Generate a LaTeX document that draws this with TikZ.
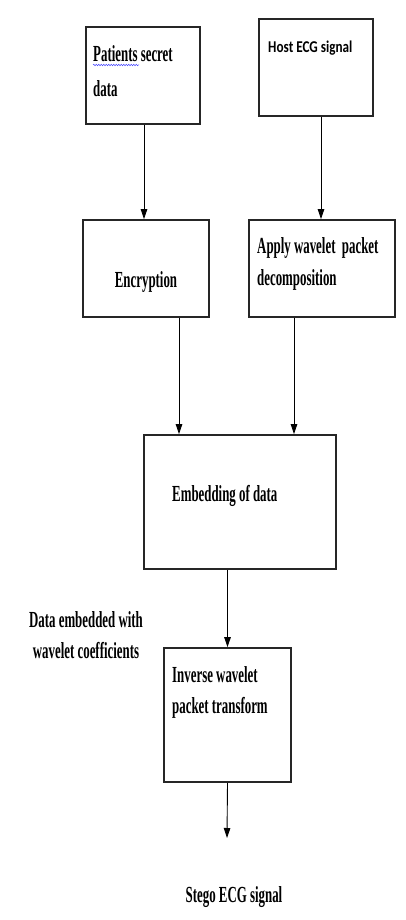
\documentclass[tikz,border=0pt]{standalone}
\usepackage{fontspec}
\usetikzlibrary{arrows.meta,decorations.pathmorphing}
\newfontfamily\tnrfont[FakeStretch=0.56]{Liberation Serif}
\newfontfamily\hostfont[FakeStretch=0.8]{Carlito}
\begin{document}
\begin{tikzpicture}[x=1pt,y=-1pt,
  box/.style={draw=black!85,line width=1.7pt,rectangle,inner sep=0pt},
  arr/.style={draw=black,line width=0.9pt,-{Triangle[length=10pt,width=6.5pt]}},
  lbl/.style={inner sep=0pt,font=\tnrfont\bfseries\fontsize{23}{32}\selectfont},
  hostlbl/.style={inner sep=0pt,font=\hostfont\bfseries\fontsize{16.5}{20}\selectfont}]
\useasboundingbox (0,0) rectangle (406,920);
% boxes
\node[box,minimum width=114pt,minimum height=97pt] (b1) at (143,75.5) {};
\node[box,minimum width=114pt,minimum height=97pt] (b2) at (316,67.5) {};
\node[box,minimum width=126pt,minimum height=97pt] (b3) at (146,268.5) {};
\node[box,minimum width=146pt,minimum height=97pt] (b4) at (322,268.5) {};
\node[box,minimum width=192pt,minimum height=134pt] (b5) at (240,502) {};
\node[box,minimum width=127pt,minimum height=134pt] (b6) at (227.5,715) {};
% texts
\node[lbl,anchor=base west] (t1a) at (93,62) {Patients secret};
\node[lbl,anchor=base west] (t1b) at (93,97) {data};
\draw[blue!70,line width=0.5pt,decorate,decoration={snake,amplitude=0.8pt,segment length=2.5pt}]
  ([yshift=-3pt]t1a.base west) -- ++(46,0);
\node[hostlbl,anchor=base west] (t2) at (268,53) {Host ECG signal};
\node[lbl,anchor=base] (t3) at (146,287) {Encryption};
\node[lbl,anchor=base west] (t4a) at (257,253) {Apply wavelet\ \ packet};
\node[lbl,anchor=base west] (t4b) at (257,285) {decomposition};
\node[lbl,anchor=base west] (t5) at (172,501) {Embedding of data};
\node[lbl,anchor=base] (t7a) at (86,627) {Data embedded with};
\node[lbl,anchor=base] (t7b) at (86,658) {wavelet coefficients};
\node[lbl,anchor=base west] (t6a) at (172,682) {Inverse wavelet};
\node[lbl,anchor=base west] (t6b) at (172,713) {packet transform};
\node[lbl,anchor=base] (t8) at (234,902) {Stego ECG signal};
% connectors
\coordinate (out) at (227,838);
\draw[arr] ([xshift=1pt]b1.south) -- ([xshift=1pt]b1.south |- b3.north);
\draw[arr] ([xshift=5pt]b2.south) -- ([xshift=5pt]b2.south |- b4.north);
\draw[arr] ([xshift=33pt]b3.south) -- ([xshift=33pt]b3.south |- b5.north);
\draw[arr] ([xshift=-28pt]b4.south) -- ([xshift=-28pt]b4.south |- b5.north);
\draw[arr] (b5.south -| b6.north) -- (b6.north);
\draw[arr] (b6.south) -- (out);
\end{tikzpicture}
\end{document}
